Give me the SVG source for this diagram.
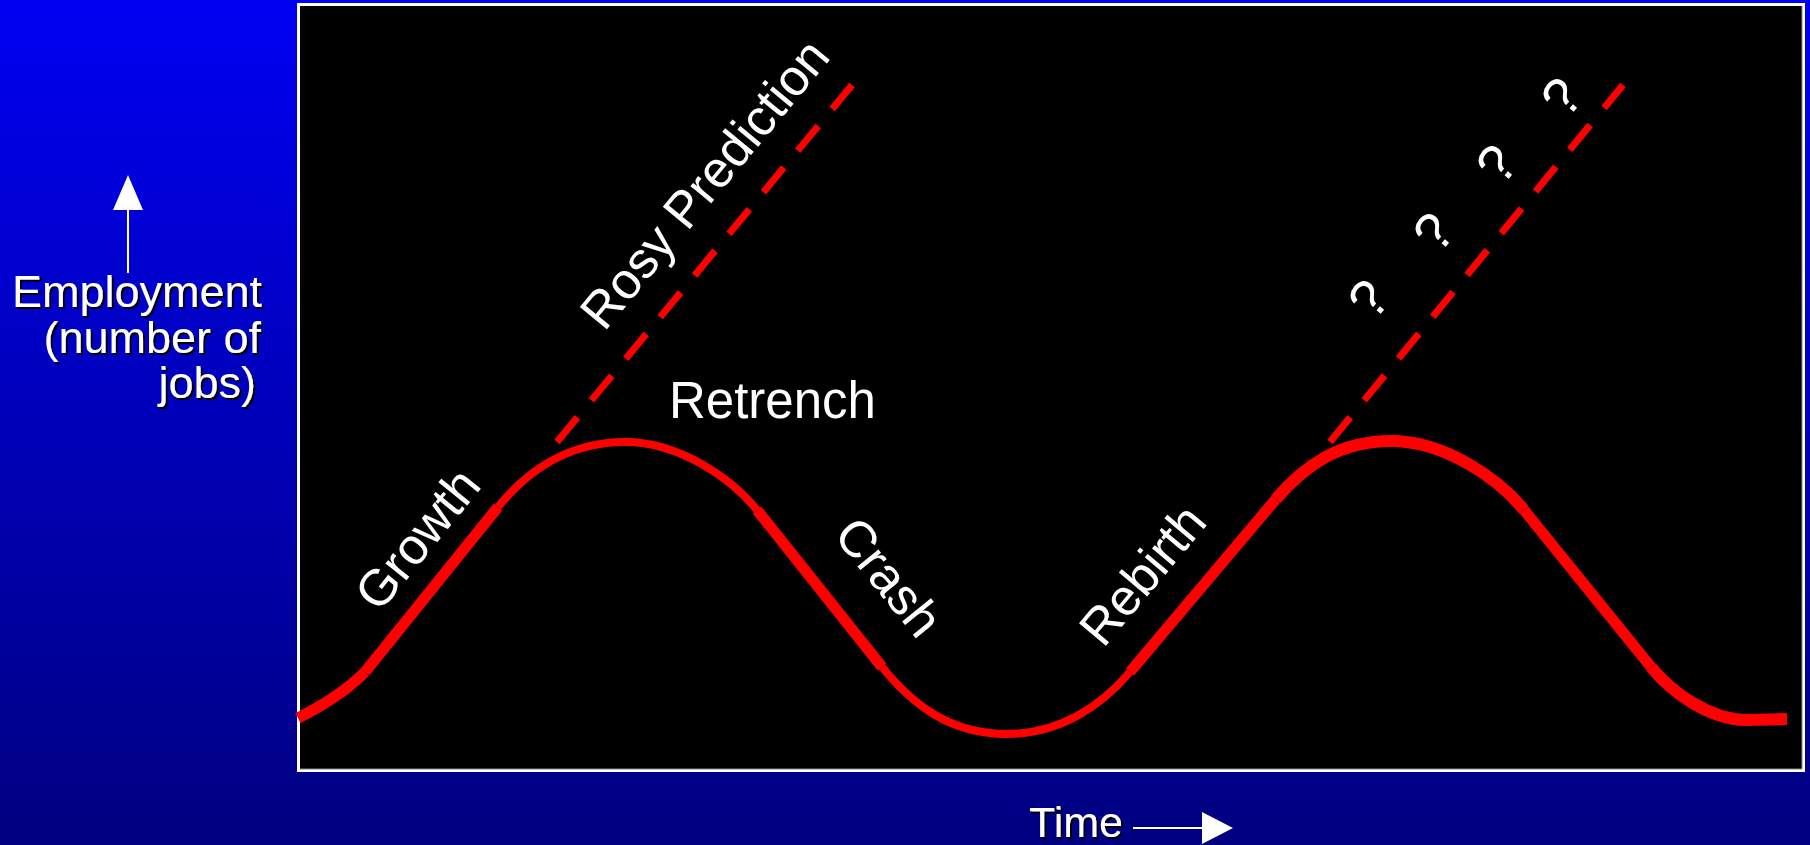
<svg xmlns="http://www.w3.org/2000/svg" width="1810" height="845" viewBox="0 0 1810 845">
<defs>
<linearGradient id="bg" x1="0" y1="0" x2="0" y2="1">
<stop offset="0" stop-color="#0000F2"/>
<stop offset="1" stop-color="#000080"/>
</linearGradient>
<filter id="shadow" x="-10%" y="-20%" width="130%" height="150%">
<feFlood flood-color="#000"/>
<feComposite in2="SourceAlpha" operator="in"/>
<feOffset dx="2" dy="2" result="sh"/>
<feMerge><feMergeNode in="sh"/><feMergeNode in="SourceGraphic"/></feMerge>
</filter>
</defs>
<style>
.lbl{font-family:"Liberation Sans",Arial,sans-serif;fill:#fff}
.side{font-size:45px;filter:url(#shadow)}
.chart{font-size:51px}
.q{font-size:54px}
.curve{fill:none;stroke:#FF0000;stroke-linecap:butt}
.thick{stroke-width:11}
.thin{stroke-width:8}
.mid{stroke-width:12}
.dash{fill:none;stroke:#FF0000;stroke-width:7;stroke-dasharray:32 22}
.axis{stroke:#fff;stroke-width:2}
</style>
<rect x="0" y="0" width="1810" height="845" fill="url(#bg)"/>
<g id="frame">
<rect x="298.5" y="4.5" width="1505" height="766" fill="#000" stroke="#fff" stroke-width="3"/>
<line x1="1802" y1="6" x2="1802" y2="769" stroke="#888" stroke-width="1"/>
<line x1="300" y1="769" x2="1802" y2="769" stroke="#888" stroke-width="1"/>
</g>
<g id="y-axis-label">
<line class="axis" x1="128" y1="208" x2="128" y2="273"/>
<polygon points="128,175 113,210 143,210" fill="#fff"/>
<text class="lbl side" x="262" y="307" text-anchor="end">Employment</text>
<text class="lbl side" x="261" y="353" text-anchor="end">(number of</text>
<text class="lbl side" x="256" y="398" text-anchor="end">jobs)</text>
</g>
<g id="x-axis-label">
<text class="lbl side" x="1029" y="837" style="font-size:43px">Time</text>
<line class="axis" x1="1133" y1="828" x2="1204" y2="828"/>
<polygon points="1202,812 1233,828 1202,844" fill="#fff"/>
</g>
<g id="connectors">
<path class="curve thick" d="M298,718 C318,708 345,692 365,672"/>
<path class="curve thick" d="M365,672 L498,507"/>
<path class="curve thin" d="M498,507 C528,470 570,442 625,442 C680,442 732,479 757,510"/>
<path class="curve thick" d="M757,510 L882,667"/>
<path class="curve thin" d="M882,667 C913,705 950,734 1007,734 C1060,734 1101,706 1130,672"/>
<path class="curve thick" d="M1130,672 L1276,499"/>
<path class="curve mid" d="M1276,499 C1305,465 1340,441 1391,441 C1445,441 1499,479 1524,510"/>
<path class="curve thick" d="M1524,510 L1651,667"/>
<path class="curve mid" d="M1651,667 C1673,694 1710,719 1745,720 L1787,719"/>
<path class="dash" d="M557,442 L852,85"/>
<path class="dash" d="M1330,442 L1623,85"/>
</g>
<g id="label-growth"><text class="lbl chart" transform="translate(431,550) rotate(-51)" text-anchor="middle">Growth</text></g>
<g id="label-rosy"><text class="lbl chart" transform="translate(718,195) rotate(-50.4)" text-anchor="middle">Rosy Prediction</text></g>
<g id="label-retrench"><text class="lbl chart" x="669" y="418">Retrench</text></g>
<g id="label-crash"><text class="lbl chart" transform="translate(875,588) rotate(51)" text-anchor="middle">Crash</text></g>
<g id="label-rebirth"><text class="lbl chart" transform="translate(1156,586) rotate(-50)" text-anchor="middle">Rebirth</text></g>
<g id="label-questions">
<text class="lbl q" transform="translate(1383,311) rotate(-50)" text-anchor="middle">?</text>
<text class="lbl q" transform="translate(1448,244) rotate(-50)" text-anchor="middle">?</text>
<text class="lbl q" transform="translate(1511,176) rotate(-50)" text-anchor="middle">?</text>
<text class="lbl q" transform="translate(1576,109) rotate(-50)" text-anchor="middle">?</text>
</g>
</svg>
